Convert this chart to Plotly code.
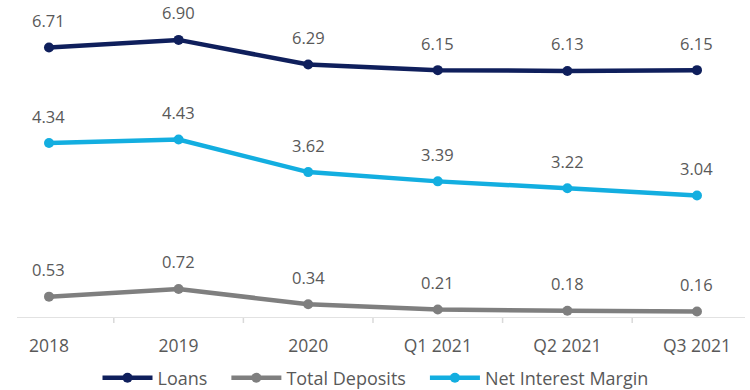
import plotly.graph_objects as go

categories = ["2018", "2019", "2020", "Q1 2021", "Q2 2021", "Q3 2021"]
loans = [6.71, 6.90, 6.29, 6.15, 6.13, 6.15]
total_deposits = [0.53, 0.72, 0.34, 0.21, 0.18, 0.16]
net_interest_margin = [4.34, 4.43, 3.62, 3.39, 3.22, 3.04]

series = [
    ("Loans", loans, "#0F1F5C"),
    ("Total Deposits", total_deposits, "#7F7F7F"),
    ("Net Interest Margin", net_interest_margin, "#13AEE0"),
]

FONT = "Open Sans"
fig = go.Figure()
xidx = list(range(len(categories)))
annotations = []
for name, vals, color in series:
    fig.add_trace(go.Scatter(
        x=xidx, y=vals, name=name + "\u00a0\u00a0\u00a0", mode="lines+markers",
        line=dict(color=color, width=4.5),
        marker=dict(color=color, size=10),
        cliponaxis=False,
    ))
    for i, v in zip(xidx, vals):
        annotations.append(dict(
            x=i, y=v, xref="x", yref="y", text=f"{v:.2f}", showarrow=False,
            yanchor="middle", xanchor="center", yshift=27,
            font=dict(family=FONT, size=16.5, color="#595959"),
        ))

fig.update_layout(
    width=750, height=390,
    margin=dict(l=0, r=0, t=0, b=72, autoexpand=False),
    paper_bgcolor="white", plot_bgcolor="white",
    showlegend=True,
    annotations=annotations,
    legend=dict(orientation="h", x=0.51, xanchor="center",
                yref="container", y=12/390, yanchor="middle",
                font=dict(family=FONT, size=18, color="#595959"),
                traceorder="normal", itemwidth=50),
    xaxis=dict(range=[-0.378, 5.409], tickmode="array", tickvals=xidx, ticktext=categories,
               showgrid=False, zeroline=False, showline=False, ticks="",
               automargin=False, ticklabelstandoff=15,
               tickfont=dict(family=FONT, size=17.5, color="#595959")),
    yaxis=dict(range=[0, 7.89], visible=False, showgrid=False, zeroline=False, automargin=False),
)

# horizontal category axis line with tick marks between categories
fig.add_shape(type="line", xref="paper", yref="y", x0=17/750, x1=745/750, y0=0, y1=0,
              line=dict(color="#D9D9D9", width=1.5), layer="below")
for i in range(len(categories) - 1):
    fig.add_shape(type="line", xref="x", yref="paper", x0=i + 0.5, x1=i + 0.5,
                  y0=0, y1=-5/318, line=dict(color="#D9D9D9", width=1.5), layer="below")

fig.write_html("out.html")
